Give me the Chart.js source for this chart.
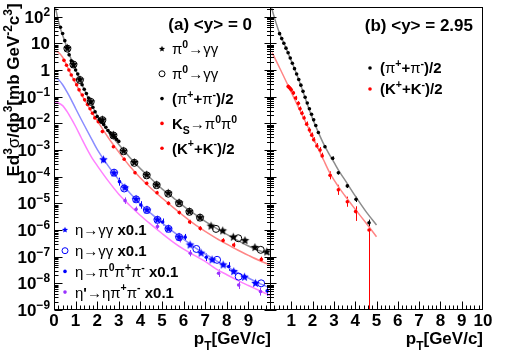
<!DOCTYPE html>
<html>
<head>
<meta charset="utf-8">
<script src="https://cdn.jsdelivr.net/npm/chart.js@4.4.1/dist/chart.umd.min.js"></script>
<style>
  html, body { margin: 0; padding: 0; background: #fff; }
</style>
</head>
<body>
<canvas id="c" width="507" height="353"></canvas>
<script>
// ---------- panel (a): <y> = 0 ----------
const pi0StarX = [0.62, 0.9, 1.2, 1.7, 2.24, 2.75, 3.22, 3.72, 4.29, 4.75, 5.29, 5.79, 6.27, 6.76, 7.27, 7.81, 8.3, 8.84, 9.3, 9.85];
const pi0StarY = [6.5, 1.6, 0.43, 0.065, 0.0135, 3.6e-3, 9.1e-4, 3.4e-4, 1.15e-4, 4.9e-5, 2.4e-5, 1.05e-5, 4.9e-6, 2.9e-6, 1.4e-6, 9.3e-7, 5.4e-7, 4.0e-7, 2.2e-7, 1.5e-7];
const pi0CircX = [0.62, 0.9, 1.2, 1.7, 2.24, 2.75, 3.22, 3.72, 4.29, 4.75, 5.29, 5.79, 6.27, 6.76, 7.5, 8.53, 9.57];
const pi0CircY = [6.3, 1.6, 0.42, 0.064, 0.0132, 3.5e-3, 9.0e-4, 3.3e-4, 1.12e-4, 4.8e-5, 2.3e-5, 1.0e-5, 4.8e-6, 2.9e-6, 1.1e-6, 4.9e-7, 1.8e-7];
const pipmAX = [0.3, 0.4, 0.5, 0.6, 0.7, 0.8, 0.9, 1.0, 1.1, 1.2, 1.3, 1.4, 1.5, 1.6, 1.7, 1.8, 1.9, 2.0, 2.1, 2.2, 2.3, 2.4, 2.5, 2.6, 2.7, 2.8, 2.9, 3.0];
const pipmAY = [40, 23.4, 12.6, 7.1, 3.7, 2.2, 1.41, 1.0, 0.71, 0.45, 0.28, 0.19, 0.132, 0.089, 0.06, 0.04, 0.027, 0.018, 0.014, 0.0112, 9.1e-3, 7.1e-3, 5.4e-3, 4.4e-3, 3.6e-3, 3.0e-3, 2.5e-3, 2.1e-3];
const ksX = [2.24, 2.75, 3.25, 3.75, 4.29, 4.77, 5.3, 5.8, 6.28, 6.77, 7.83, 8.32, 9.6];
const ksY = [4.9e-3, 1.32e-3, 4.5e-4, 1.41e-4, 5.6e-5, 2.5e-5, 1.0e-5, 4.5e-6, 2.0e-6, 1.15e-6, 4.0e-7, 2.75e-7, 7.9e-8];
const ksErr = [0.05, 0.05, 0.06, 0.06, 0.06, 0.07, 0.07, 0.07, 0.08, 0.08, 0.09, 0.09, 0.1];
const kpmAX = [0.46, 0.58, 0.69, 0.8, 0.93, 1.05, 1.16, 1.31, 1.42, 1.55, 1.67, 1.78, 1.89, 2.05];
const kpmAY = [2.3, 1.5, 1.0, 0.65, 0.43, 0.28, 0.18, 0.115, 0.076, 0.051, 0.035, 0.024, 0.016, 0.0115];
const etaStarX = [2.29, 2.78, 3.28, 3.8, 4.3, 4.79, 5.3, 5.79, 6.3, 6.81, 7.32, 7.83, 8.32, 8.82, 9.33];
const etaStarY = [4.3e-4, 1.35e-4, 3.8e-5, 1.41e-5, 5.6e-6, 2.4e-6, 1.1e-6, 5.4e-7, 2.75e-7, 1.35e-7, 7.6e-8, 4.9e-8, 2.75e-8, 1.7e-8, 1.0e-8];
const etaStarErr = [0.1, 0.05, 0.05, 0.04, 0.04, 0.04, 0.05, 0.05, 0.05, 0.05, 0.06, 0.06, 0.07, 0.07, 0.08];
const etaCircX = [2.78, 3.25, 3.8, 4.3, 4.79, 5.3, 5.79, 6.59, 7.55, 8.55, 9.59];
const etaCircY = [1.41e-4, 3.6e-5, 1.41e-5, 5.6e-6, 2.4e-6, 1.1e-6, 5.4e-7, 1.95e-7, 7.6e-8, 1.78e-8, 1.0e-8];
const eta3piX = [3.03, 4.02, 5.03, 6.07, 7.05, 8.09, 9.87];
const eta3piY = [6.5e-5, 8.7e-6, 2.0e-6, 5.4e-7, 9.5e-8, 4.3e-8, 5.2e-9];
const eta3piErr = [0.15, 0.14, 0.13, 0.12, 0.14, 0.16, 0.18];
const etapX = [3.29, 3.8, 4.79, 5.82, 6.31, 7.62, 8.55, 9.56];
const etapY = [1.26e-5, 6.0e-6, 1.35e-6, 4.3e-7, 1.35e-7, 2.4e-8, 8.7e-9, 4.9e-9];
const etapErr = [0.12, 0.1, 0.1, 0.1, 0.12, 0.14, 0.15, 0.15];

// fitted curves, panel (a)
const fitPiAX = [0.05, 0.1, 0.2, 0.3, 0.4, 0.5, 0.7, 1.0, 1.25, 1.5, 1.75, 2.0, 2.5, 3.0, 3.5, 4.0, 4.5, 5.0, 5.5, 6.0, 6.5, 7.0, 7.5, 8.0, 8.5, 9.0, 9.5, 10];
const fitPiAY = [250, 160, 71, 35, 20, 12, 4.0, 1.05, 0.34, 0.126, 0.048, 0.02, 5.0e-3, 1.6e-3, 5.4e-4, 2.0e-4, 8.3e-5, 3.5e-5, 1.66e-5, 7.9e-6, 4.0e-6, 2.1e-6, 1.17e-6, 6.8e-7, 4.1e-7, 2.5e-7, 1.7e-7, 1.2e-7];
const fitKAX = [0, 0.2, 0.4, 0.6, 0.8, 1.0, 1.25, 1.5, 1.75, 2.0, 2.5, 3.0, 3.5, 4.0, 4.5, 5.0, 5.5, 6.0, 6.5, 7.0, 7.5, 8.0, 8.5, 9.0, 9.5, 10];
const fitKAY = [5.0, 4.6, 3.0, 1.41, 0.65, 0.32, 0.13, 0.058, 0.026, 0.0126, 3.0e-3, 8.3e-4, 2.5e-4, 8.9e-5, 3.6e-5, 1.58e-5, 7.2e-6, 3.4e-6, 1.66e-6, 8.9e-7, 5.0e-7, 2.95e-7, 1.78e-7, 1.12e-7, 7.2e-8, 4.9e-8];
const fitEtaX = [0, 0.2, 0.4, 0.6, 0.8, 1.0, 1.25, 1.5, 1.75, 2.0, 2.5, 3.0, 3.5, 4.0, 4.5, 5.0, 5.5, 6.0, 6.5, 7.0, 7.5, 8.0, 8.5, 9.0, 9.5, 10];
const fitEtaY = [0.49, 0.44, 0.28, 0.15, 0.076, 0.036, 0.0145, 6.0e-3, 2.5e-3, 1.05e-3, 2.6e-4, 7.6e-5, 2.5e-5, 9.5e-6, 4.1e-6, 1.86e-6, 8.9e-7, 4.5e-7, 2.3e-7, 1.26e-7, 7.1e-8, 4.2e-8, 2.5e-8, 1.58e-8, 1.0e-8, 6.8e-9];
const fitEtapX = [0, 0.2, 0.4, 0.6, 0.8, 1.0, 1.25, 1.5, 1.75, 2.0, 2.5, 3.0, 3.5, 4.0, 4.5, 5.0, 5.5, 6.0, 6.5, 7.0, 7.5, 8.0, 8.5, 9.0, 9.5, 10];
const fitEtapY = [0.062, 0.058, 0.046, 0.028, 0.015, 7.6e-3, 3.0e-3, 1.2e-3, 5.2e-4, 2.6e-4, 7.1e-5, 2.2e-5, 8.5e-6, 3.5e-6, 1.58e-6, 7.4e-7, 3.6e-7, 1.9e-7, 1.12e-7, 6.6e-8, 3.5e-8, 2.1e-8, 1.29e-8, 8.3e-9, 5.4e-9, 3.5e-9];

// ---------- panel (b): <y> = 2.95 ----------
const pipmBX = [0.45, 0.55, 0.65, 0.75, 0.85, 0.95, 1.05, 1.15, 1.25, 1.35, 1.45, 1.55, 1.65, 1.75, 1.85, 1.95, 2.05, 2.15, 2.27, 2.58, 2.94, 3.21, 3.63, 4.04, 4.65];
const pipmBY = [23, 15, 10, 6.6, 4.4, 2.8, 1.78, 1.12, 0.71, 0.44, 0.27, 0.158, 0.095, 0.058, 0.035, 0.022, 0.0135, 8.3e-3, 4.5e-3, 1.32e-3, 4.9e-4, 1.41e-4, 4.5e-5, 1.41e-5, 1.86e-6];
const pipmBErr = [0.03, 0.03, 0.03, 0.03, 0.03, 0.03, 0.03, 0.03, 0.03, 0.03, 0.03, 0.03, 0.03, 0.03, 0.04, 0.04, 0.04, 0.04, 0.05, 0.06, 0.07, 0.07, 0.08, 0.1, [0.9, 0.12]];
const kpmBX = [0.85, 0.9, 0.95, 1.0, 1.1, 1.2, 1.33, 1.41, 1.5, 1.6, 1.72, 1.85, 1.96, 2.05, 2.2, 2.35, 2.45, 2.82, 3.21, 3.63, 4.02, 4.65];
const kpmBY = [0.24, 0.22, 0.2, 0.18, 0.138, 0.089, 0.056, 0.035, 0.024, 0.0158, 9.3e-3, 5.6e-3, 3.6e-3, 2.4e-3, 1.41e-3, 1.0e-3, 6.0e-4, 1.12e-4, 3.2e-5, 1.15e-5, 4.9e-6, 1.0e-6];
const kpmBErr = [0.08, 0.08, 0.08, 0.08, 0.08, 0.08, 0.08, 0.09, 0.09, 0.09, 0.1, 0.1, 0.1, 0.1, 0.11, 0.11, 0.12, 0.15, 0.19, 0.19, [0.35, 0.2], [4, 0.15]];
const fitPiBX = [0.05, 0.25, 0.44, 0.7, 1.0, 1.25, 1.5, 1.75, 2.0, 2.25, 2.5, 2.75, 3.0, 3.25, 3.5, 4.0, 4.5, 5.0];
const fitPiBY = [250, 71, 25, 8.3, 2.2, 0.71, 0.2, 0.052, 0.015, 5.0e-3, 1.8e-3, 7.6e-4, 3.5e-4, 1.58e-4, 7.9e-5, 1.9e-5, 5.0e-6, 1.55e-6];
const fitKBX = [0.1, 0.5, 1.0, 1.5, 2.0, 2.5, 2.82, 3.25, 3.5, 4.0, 4.5, 5.0];
const fitKBY = [4.5, 1.0, 0.145, 0.021, 3.2e-3, 4.5e-4, 1.32e-4, 3.8e-5, 2.0e-5, 6.0e-6, 1.86e-6, 5.6e-7];

// ---------- axes ----------
const xTicksA = ['0', '1', '2', '3', '4', '5', '6', '7', '8', '9'];
const xTicksB = ['1', '2', '3', '4', '5', '6', '7', '8', '9', '10'];
const yTickValues = [1e2, 1e1, 1, 1e-1, 1e-2, 1e-3, 1e-4, 1e-5, 1e-6, 1e-7, 1e-8, 1e-9];
const yTickLabels = ['10^{2}', '10', '1', '10^{−1}', '10^{−2}', '10^{−3}', '10^{−4}', '10^{−5}', '10^{−6}', '10^{−7}', '10^{−8}', '10^{−9}'];

const FONT = '"Liberation Sans", Arial, Helvetica, sans-serif';

const pts = (xs, ys) => xs.map((x, i) => ({x: x, y: ys[i]}));

const starImg = (color, r) => {
    const c = document.createElement('canvas');
    c.width = c.height = Math.round(2 * r + 2);
    const g = c.getContext('2d');
    g.fillStyle = color;
    g.beginPath();
    for (let i = 0; i < 10; i++) {
        const rr = i % 2 ? r * 0.45 : r;
        const a = -Math.PI / 2 + i * Math.PI / 5;
        const px = c.width / 2 + rr * Math.cos(a), py = c.height / 2 + rr * Math.sin(a);
        i ? g.lineTo(px, py) : g.moveTo(px, py);
    }
    g.closePath();
    g.fill();
    return c;
};

// marker datasets
const marks = (label, axis, xs, ys, kind, color, err) => {
    const ds = {
        label: label, xAxisID: axis, data: pts(xs, ys), showLine: false, order: 0,
        borderColor: color, backgroundColor: color, err: err || null, kind: kind,
        pointBorderWidth: 1
    };
    if (kind === 'star') { ds.pointStyle = starImg(color, 4.5); ds.legendStar = starImg(color, 3.2); ds.pointRadius = 4; }
    if (kind === 'circ') { ds.pointStyle = 'circle'; ds.pointRadius = 3.5; ds.pointBackgroundColor = 'rgba(0,0,0,0)'; }
    if (kind === 'dot') { ds.pointStyle = 'circle'; ds.pointRadius = 1.8; ds.pointBorderWidth = 0; }
    return ds;
};
const curve = (axis, xs, ys, color) => ({
    label: '', xAxisID: axis, data: pts(xs, ys), showLine: true, order: 1,
    borderColor: color, borderWidth: 1.5, pointRadius: 0, cubicInterpolationMode: 'monotone'
});

// rich text: ^{..} superscript, _{..} subscript; greek letters and arrows drawn thin
const parse = s => {
    const out = [];
    let i = 0;
    while (i < s.length) {
        if ((s[i] === '^' || s[i] === '_') && s[i + 1] === '{') {
            const j = s.indexOf('}', i);
            out.push({t: s.slice(i + 2, j), k: s[i]});
            i = j + 1;
        } else {
            let j = i;
            while (j < s.length && !((s[j] === '^' || s[j] === '_') && s[j + 1] === '{')) j++;
            out.push({t: s.slice(i, j), k: ''});
            i = j;
        }
    }
    return out;
};
const drawRich = (ctx, s, x, y, size, align) => {
    const runs = [];
    parse(s).forEach(p => {
        const sz = p.k ? size * 0.7 : size;
        const dy = p.k === '^' ? -size * 0.42 : p.k === '_' ? size * 0.32 : 0;
        (p.t.match(/[α-ωΑ-Ω→]+|[^α-ωΑ-Ω→]+/g) || []).forEach(t => {
            const thin = /[α-ωΑ-Ω→]/.test(t);
            runs.push({t: t, font: (thin ? 'normal ' : 'bold ') + sz.toFixed(1) + 'px ' + FONT, dy: dy});
        });
    });
    let w = 0;
    runs.forEach(r => { ctx.font = r.font; r.w = ctx.measureText(r.t).width; w += r.w; });
    let cx = align === 'right' ? x - w : align === 'center' ? x - w / 2 : x;
    ctx.textAlign = 'left';
    ctx.textBaseline = 'alphabetic';
    runs.forEach(r => { ctx.font = r.font; ctx.fillText(r.t, cx, y + size * 0.36 + r.dy); cx += r.w; });
};

// small legend marker, same look as the plotted one
const drawMarker = (ctx, ds, x, y) => {
    ctx.save();
    if (ds.kind === 'star') {
        const im = ds.legendStar;
        ctx.drawImage(im, x - im.width / 2, y - im.height / 2);
    } else {
        ctx.beginPath();
        ctx.arc(x, y, ds.kind === 'circ' ? 3 : 1.8, 0, Math.PI * 2);
        if (ds.kind === 'circ') { ctx.strokeStyle = ds.borderColor; ctx.lineWidth = 1; ctx.stroke(); }
        else { ctx.fillStyle = ds.backgroundColor; ctx.fill(); }
    }
    ctx.restore();
};

const frame = {
    id: 'frame',
    beforeDatasetsDraw(chart) {
        const {ctx, chartArea: a, scales} = chart;
        ctx.save();
        ctx.beginPath();
        ctx.rect(a.left, a.top, a.width, a.height);
        ctx.clip();
        ctx.lineWidth = 1;
        chart.data.datasets.forEach(ds => {
            if (!ds.err) return;
            const xs = scales[ds.xAxisID], ys = scales.y;
            ctx.strokeStyle = ds.borderColor;
            ds.data.forEach((p, i) => {
                const e = ds.err[i];
                const lo = Array.isArray(e) ? e[0] : e, hi = Array.isArray(e) ? e[1] : e;
                const px = Math.round(xs.getPixelForValue(p.x)) + 0.5;
                ctx.beginPath();
                ctx.moveTo(px, ys.getPixelForValue(p.y / Math.pow(10, lo)));
                ctx.lineTo(px, ys.getPixelForValue(p.y * Math.pow(10, hi)));
                ctx.stroke();
            });
        });
        ctx.restore();
    },
    afterDraw(chart) {
        const {ctx, chartArea: a, scales: {y, xa, xb}} = chart;
        const ds = chart.data.datasets;
        ctx.save();
        ctx.strokeStyle = '#000';
        ctx.fillStyle = '#000';
        ctx.lineWidth = 1;
        const L = a.left + 0.5, R = a.right - 0.5, T = a.top + 0.5, B = a.bottom - 0.5;
        const D = Math.round(xa.right) + 0.5;
        ctx.strokeRect(L, T, R - L, B - T);
        ctx.beginPath();
        ctx.moveTo(D, T); ctx.lineTo(D, B);
        // y ticks: left edge inward, divider both sides
        for (let d = -9; d <= 2; d++) {
            for (let m = 1; m <= 9; m++) {
                const v = m * Math.pow(10, d);
                if (v > y.max) continue;
                const py = Math.round(y.getPixelForValue(v)) + 0.5;
                const big = m === 1;
                ctx.moveTo(L, py); ctx.lineTo(L + (big ? 8 : 4), py);
                ctx.moveTo(D - (big ? 6 : 3.5), py); ctx.lineTo(D + (big ? 6 : 3.5), py);
            }
        }
        // x ticks, both panels
        [xa, xb].forEach(s => {
            for (let k = 1; k < 50; k++) {
                const px = Math.round(s.getPixelForValue(k / 5)) + 0.5;
                ctx.moveTo(px, B); ctx.lineTo(px, B - (k % 5 === 0 ? 8 : 4));
            }
        });
        ctx.stroke();

        // tick labels
        yTickValues.forEach((v, i) => drawRich(ctx, yTickLabels[i], a.left - 4, y.getPixelForValue(v), 17, 'right'));
        xTicksA.forEach(t => drawRich(ctx, t, xa.getPixelForValue(+t), a.bottom + 10, 17, 'center'));
        xTicksB.forEach(t => drawRich(ctx, t, xb.getPixelForValue(+t), a.bottom + 10, 17, 'center'));

        // axis titles
        drawRich(ctx, 'p_{T}[GeV/c]', xa.right + 1, a.bottom + 28, 17, 'right');
        drawRich(ctx, 'p_{T}[GeV/c]', xb.right, a.bottom + 28, 17, 'right');
        ctx.save();
        ctx.translate(13, 90);
        ctx.rotate(-Math.PI / 2);
        drawRich(ctx, 'Ed^{3}σ/dp^{3}[mb GeV^{-2}c^{3}]', 0, 0, 17, 'center');
        ctx.restore();

        drawRich(ctx, '(a) <y> = 0', xa.right - 18, 24, 17, 'right');
        drawRich(ctx, '(b) <y> = 2.95', xb.right - 10, 25, 17, 'right');

        // legends
        const legA = [0, 1, 2, 3, 4], legC = [5, 6, 7, 8], legB = [9, 10];
        legA.forEach((k, i) => {
            const yy = 49 + i * 24.8;
            drawMarker(ctx, ds[k], 162, yy);
            drawRich(ctx, ds[k].label, 172, yy, 15, 'left');
        });
        legC.forEach((k, i) => {
            const yy = 230 + i * 20.7;
            drawMarker(ctx, ds[k], 65, yy);
            drawRich(ctx, ds[k].label, 75, yy, 15, 'left');
        });
        legB.forEach((k, i) => {
            const yy = 68 + i * 21;
            drawMarker(ctx, ds[k], 370, yy);
            drawRich(ctx, ds[k].label, 380, yy, 15, 'left');
        });
        ctx.restore();
    }
};

window.onload = () => {
    const ctx = document.getElementById('c').getContext('2d');
    const RED = '#ff0000', BLUE = '#0000ff', VIOLET = '#9933ff';
    new Chart(ctx, {
        type: 'scatter',
        data: {
            datasets: [
                marks('π^{0}→γγ', 'xa', pi0StarX, pi0StarY, 'star', '#000'),
                marks('π^{0}→γγ', 'xa', pi0CircX, pi0CircY, 'circ', '#000'),
                marks('(π^{+}+π^{-})/2', 'xa', pipmAX, pipmAY, 'dot', '#000'),
                marks('K_{S}→π^{0}π^{0}', 'xa', ksX, ksY, 'dot', RED, ksErr),
                marks('(K^{+}+K^{-})/2', 'xa', kpmAX, kpmAY, 'dot', RED),
                marks('η→γγ x0.1', 'xa', etaStarX, etaStarY, 'star', BLUE, etaStarErr),
                marks('η→γγ x0.1', 'xa', etaCircX, etaCircY, 'circ', BLUE),
                marks('η→π^{0}π^{+}π^{-} x0.1', 'xa', eta3piX, eta3piY, 'dot', BLUE, eta3piErr),
                marks("η'→ηπ^{+}π^{-} x0.1", 'xa', etapX, etapY, 'dot', VIOLET, etapErr),
                marks('(π^{+}+π^{-})/2', 'xb', pipmBX, pipmBY, 'dot', '#000', pipmBErr),
                marks('(K^{+}+K^{-})/2', 'xb', kpmBX, kpmBY, 'dot', RED, kpmBErr),
                curve('xa', fitPiAX, fitPiAY, '#8c8c8c'),
                curve('xa', fitKAX, fitKAY, '#ff8585'),
                curve('xa', fitEtaX, fitEtaY, '#8a8cff'),
                curve('xa', fitEtapX, fitEtapY, '#ff80ff'),
                curve('xb', fitPiBX, fitPiBY, '#8c8c8c'),
                curve('xb', fitKBX, fitKBY, '#ff8585')
            ]
        },
        options: {
            responsive: false,
            animation: false,
            events: [],
            layout: {padding: {left: 0, top: 7, right: 24, bottom: 0}},
            plugins: {legend: {display: false}, tooltip: {enabled: false}},
            scales: {
                y: {
                    type: 'logarithmic', position: 'left', min: 1e-9, max: 230,
                    ticks: {display: false}, grid: {display: false}, border: {display: false},
                    afterFit: s => { s.width = 54; }
                },
                xa: {
                    type: 'linear', position: 'bottom', stack: 'pt', stackWeight: 216, min: 0, max: 10,
                    ticks: {display: false}, grid: {display: false}, border: {display: false},
                    afterFit: s => { s.height = 43; }
                },
                xb: {
                    type: 'linear', position: 'bottom', stack: 'pt', stackWeight: 213, min: 0, max: 10,
                    ticks: {display: false}, grid: {display: false}, border: {display: false},
                    afterFit: s => { s.height = 43; }
                }
            }
        },
        plugins: [frame]
    });
};
</script>
</body>
</html>
